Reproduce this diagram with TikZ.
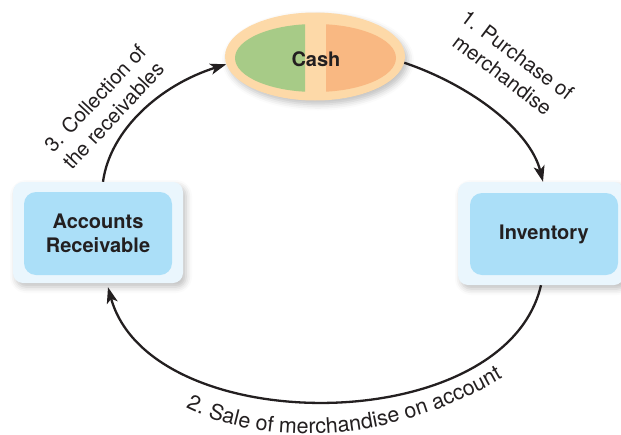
\documentclass[tikz,border=0pt]{standalone}
\usepackage{fontspec}
\setmainfont{TeX Gyre Heros}
\usetikzlibrary{arrows.meta,decorations.text,shadows.blur,shapes.geometric}
\definecolor{cashouter}{HTML}{FDD9A8}
\definecolor{cashgreen}{HTML}{A7CB87}
\definecolor{cashorange}{HTML}{F9B882}
\definecolor{boxouter}{HTML}{EAF6FD}
\definecolor{boxinner}{HTML}{ABDFF8}
\definecolor{ink}{HTML}{231F20}
\begin{document}
\begin{tikzpicture}[x=1pt,y=-1pt,
  softshadow/.style={blur shadow={shadow xshift=3pt, shadow yshift=-4pt, shadow blur radius=6pt, shadow opacity=25}},
  outerbox/.style={rectangle, rounded corners=10pt, fill=boxouter, inner sep=0pt, softshadow},
  innerbox/.style={rectangle, rounded corners=12pt, fill=boxinner, inner sep=0pt, align=center, font=\fontsize{20}{24}\selectfont\bfseries, text=ink},
  flow/.style={line width=2.3pt, draw=ink, -{Stealth[length=16pt,width=11pt,inset=4pt]}},
  lbl/.style={font=\fontsize{20.5}{25}\selectfont, text=ink, align=center, inner sep=0pt}]
\useasboundingbox (0,0) rectangle (621,434);
% Cash
\node[ellipse, minimum width=180pt, minimum height=88pt, fill=cashouter, inner sep=0pt, softshadow] (cash) at (315,56.5) {};
\begin{scope}
  \clip (230,0) rectangle (305,120);
  \fill[cashgreen] (315.5,58) ellipse [x radius=80.5pt, y radius=34pt];
\end{scope}
\begin{scope}
  \clip (326,0) rectangle (410,120);
  \fill[cashorange] (315.5,58) ellipse [x radius=80.5pt, y radius=34pt];
\end{scope}
\node[font=\fontsize{20}{24}\selectfont\bfseries, text=ink] (cashtxt) at (316,59) {Cash};
% Accounts receivable
\node[outerbox, minimum width=170pt, minimum height=101pt] (ar) at (98,232.5) {};
\node[innerbox, minimum width=148pt, minimum height=83pt] (arin) at (98,233.5) {Accounts\\Receivable};
% Inventory
\node[outerbox, minimum width=166pt, minimum height=103pt] (inv) at (541,233.5) {};
\node[innerbox, minimum width=148pt, minimum height=82pt] (invin) at (544,234) {Inventory};
% connectors
\draw[flow] (cash.-4) .. controls (470,85) and (530,130) .. ([xshift=2pt]inv.north);
\draw[flow] (inv.south) .. controls (505,440) and (150,440) .. ([xshift=10pt,yshift=-4pt]ar.south);
\draw[flow] ([xshift=5pt]ar.north) .. controls (110,130) and (160,85) .. (cash.185);
% labels
\node[lbl, rotate=-37] (l1) at (510,65) {1. Purchase of\\merchandise};
\node[lbl, rotate=47] (l3) at (104,107) {3. Collection of\\the receivables};
\path[decorate, decoration={text along path, text align=center,
  text={|\fontsize{21.5}{25}\selectfont\color{ink}|2. Sale of merchandise on account}}]
  (160,392) .. controls (245,452) and (395,452) .. (528,362);
\end{tikzpicture}
\end{document}
